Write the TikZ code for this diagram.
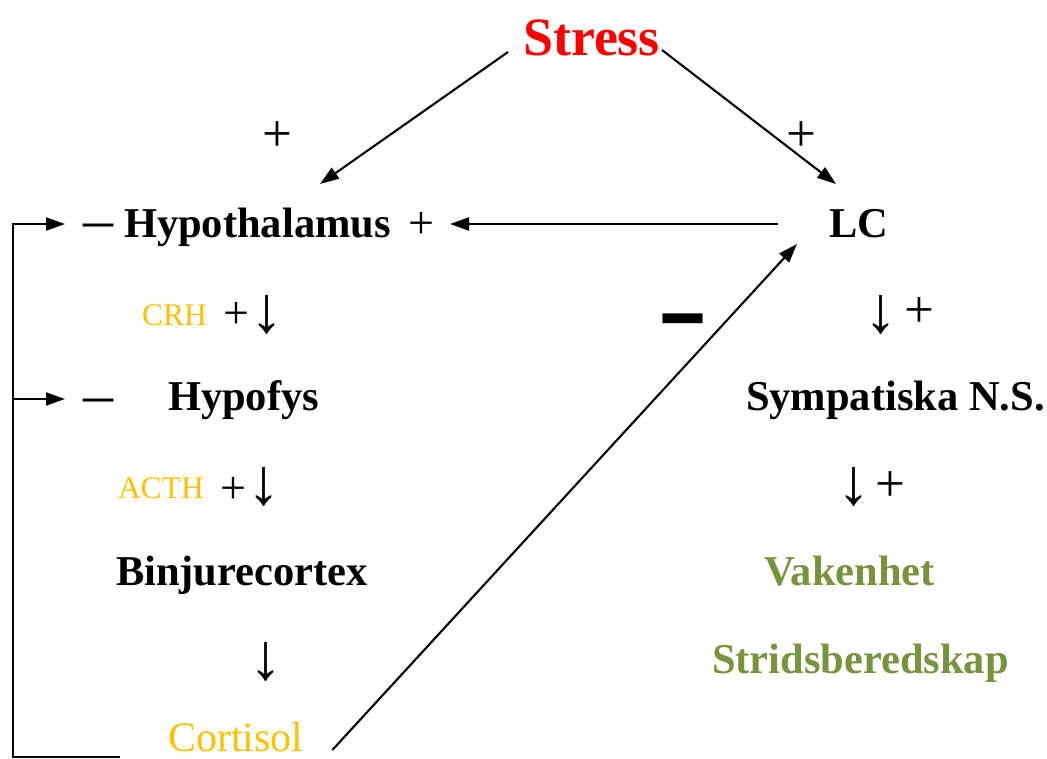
\documentclass[tikz,border=0pt]{standalone}
\usepackage{fontspec}
\setmainfont{Liberation Serif}
\usepackage{graphicx}
\usetikzlibrary{arrows.meta}
\definecolor{stressred}{RGB}{255,0,0}
\definecolor{horm}{RGB}{255,192,0}
\definecolor{effgreen}{RGB}{119,147,60}
\begin{document}
\begin{tikzpicture}[x=1pt,y=-1pt,
  lbl/.style={inner sep=0pt, outer sep=0pt, anchor=base west, font=\fontsize{42.5}{50}\selectfont\bfseries},
  hormone/.style={inner sep=0pt, outer sep=0pt, anchor=base west, text=horm, font=\fontsize{31.5}{36}\selectfont},
  sign/.style={inner sep=0pt, outer sep=0pt, font=\fontsize{46}{50}\selectfont},
  bigsign/.style={inner sep=0pt, outer sep=0pt, font=\fontsize{53}{60}\selectfont},
  darr/.style={inner sep=0pt, outer sep=0pt, font=\fontsize{66}{70}\selectfont},
  dashsign/.style={inner sep=0pt, outer sep=0pt, font=\fontsize{60}{60}\selectfont},
  conn/.style={line width=2.1pt, -{Triangle[length=19pt,width=13pt]}}]
\useasboundingbox (0,0) rectangle (1047,758);
% main labels
\node[lbl, text=stressred, font=\fontsize{54}{60}\selectfont\bfseries] (stress) at (523,55) {Stress};
\node[lbl] (hyp) at (124,237) {Hypothalamus};
\node[lbl] (lc) at (829,237) {LC};
\node[lbl] (hypo) at (168,410) {Hypofys};
\node[lbl] (bin) at (116,585) {Binjurecortex};
\node[hormone, font=\fontsize{42}{48}\selectfont] (cort) at (168,751) {Cortisol};
\node[lbl] (sym) at (746,410) {Sympatiska N.S.};
\node[lbl, text=effgreen] (vak) at (764,585) {Vakenhet};
\node[lbl, text=effgreen] (strid) at (712,673) {Stridsberedskap};
\node[hormone] (crh) at (142,325) {CRH};
\node[hormone] (acth) at (118,498) {ACTH};
% signs
\node[bigsign] (pl1) at (277,137) {+};
\node[bigsign] (pl2) at (801,137) {+};
\node[sign] (pl3) at (421,226) {+};
\node[sign] (pl4) at (236,316) {+};
\node[sign] (pl5) at (233,490) {+};
\node[bigsign] (pl6) at (919,313) {+};
\node[bigsign] (pl7) at (890,487) {+};
\node[darr] (d1) at (267,315) {↓};
\node[darr] (d2) at (264,487) {↓};
\node[darr] (d3) at (266,662) {↓};
\node[darr] (d4) at (881,315) {↓};
\node[darr] (d5) at (854,487) {↓};
\node[dashsign] (m1) at (98,232) {–};
\node[dashsign] (m2) at (98,407) {–};
\node[inner sep=0pt] (m3) at (683,333) {\scalebox{1}[1.8]{\fontsize{78}{78}\selectfont\bfseries –}};
% connectors
\draw[conn] ([shift={(-15pt,3pt)}]stress.base west) -- ([shift={(196pt,53pt)}]hyp.base west);
\draw[conn] ([shift={(2pt,5pt)}]stress.base east) -- ([shift={(7pt,53pt)}]lc.base west);
\draw[conn] ([shift={(-51pt,13pt)}]lc.base west) -- ([shift={(29pt,2pt)}]pl3.center);
\draw[conn] ([shift={(29pt,1pt)}]cort.base east) -- ([shift={(-32pt,-7pt)}]lc.base west);
\draw[conn] ([shift={(-48pt,-6pt)}]cort.base west) -| ([shift={(-85pt,8pt)}]m1.center) -- ([shift={(-33pt,8pt)}]m1.center);
\draw[conn] ([shift={(-85pt,8pt)}]m2.center) -- ([shift={(-33pt,8pt)}]m2.center);
\end{tikzpicture}
\end{document}
